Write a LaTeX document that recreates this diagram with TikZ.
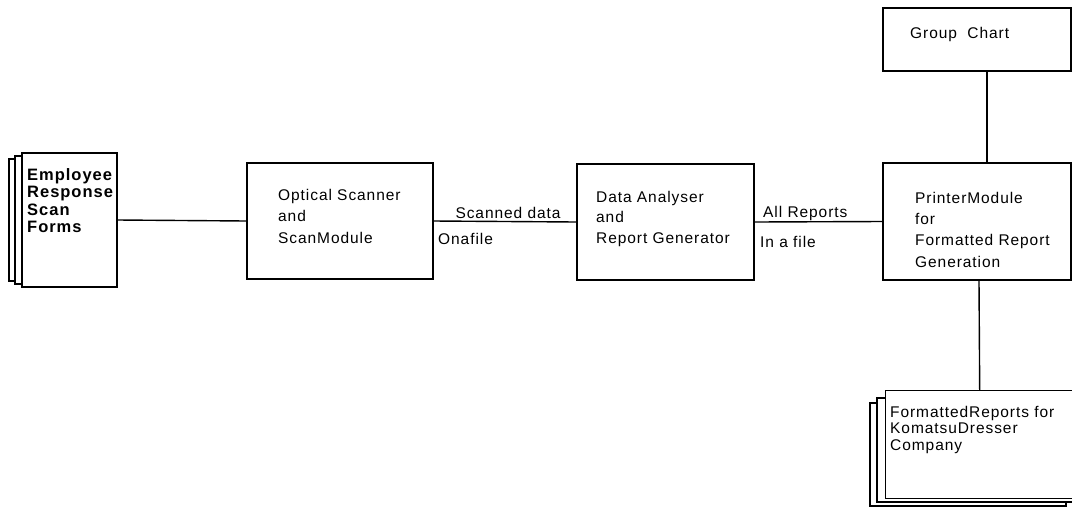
\documentclass[tikz,border=0pt]{standalone}
\usepackage{fontspec}
\newfontfamily\dgfont[LetterSpace=6]{Liberation Sans}
\begin{document}
\begin{tikzpicture}[x=1pt,y=-1pt,
  lw/.style={line width=1.4pt},
  box/.style={lw,draw=black,fill=white},
  txt/.style={anchor=base west,inner sep=0pt,align=left,font=\dgfont\fontsize{15.5}{21.5}\selectfont},
  lbl/.style={anchor=base west,inner sep=0pt,font=\dgfont\fontsize{15.5}{21.5}\selectfont},
  conn/.style={lw,draw=black}]
\useasboundingbox (0,0) rectangle (1072,507);
\begin{scope}
\clip (0,0) rectangle (1072,507);
% Employee Response Scan Forms (stacked document)
\draw[box] (9,159) rectangle (105,281);
\draw[box] (15,156) rectangle (110,284);
\node[box,minimum width=95pt,minimum height=134pt,inner sep=0pt] (emp) at (69.5,220) {};
\node[txt,font=\dgfont\bfseries\fontsize{16.5}{17.5}\selectfont] (empt) at (27,232.5) {Employee\\Response\\ Scan\\ Forms};
% Optical Scanner
\node[box,minimum width=186pt,minimum height=116pt,inner sep=0pt] (opt) at (340,221) {};
\node[txt] (optt) at (278,243) {Optical Scanner\\and\\ScanModule};
% Data Analyser
\node[box,minimum width=177pt,minimum height=116pt,inner sep=0pt] (dat) at (665.5,222) {};
\node[txt,font=\dgfont\fontsize{15.5}{20.5}\selectfont] (datt) at (596,243) {Data Analyser\\and\\Report Generator};
% Printer Module
\node[box,minimum width=188pt,minimum height=117pt,inner sep=0pt] (prn) at (977,221.5) {};
\node[txt,font=\dgfont\fontsize{15.5}{21.3}\selectfont] (prnt) at (915,267) {PrinterModule\\for\\Formatted Report\\Generation};
% Group Chart
\node[box,minimum width=188pt,minimum height=63pt,inner sep=0pt] (grp) at (977,39.5) {};
\node[lbl] (grpt) at (910,38) {Group\ \ Chart};
% Formatted reports (stacked document)
\draw[box] (870,403) rectangle (1066,506);
\draw[box] (877,398) rectangle (1075,502);
\node[box,minimum width=200pt,minimum height=108pt,inner sep=0pt,anchor=north west] (rep) at (885,390) {};
\node[txt,font=\dgfont\fontsize{15.5}{16.5}\selectfont] (rept) at (890,450) {FormattedReports for\\KomatsuDresser\\Company};
\end{scope}
% connectors
\draw[conn] (emp.east) -- (opt.west);
\draw[conn] (opt.east) -- (dat.west);
\draw[conn] (dat.east) -- (prn.west);
\draw[conn] ([xshift=10pt]grp.south) -- ([xshift=10pt]prn.north);
\draw[conn] ([xshift=2pt]prn.south) -- ([xshift=-6pt]rep.north);
% connector labels
\node[lbl,anchor=base] (l1) at (508,218) {Scanned data};
\node[lbl] (l2) at (438,244) {Onafile};
\node[lbl] (l3) at (763,217) {All Reports};
\node[lbl] (l4) at (760,247) {In a file};
\end{tikzpicture}
\end{document}
